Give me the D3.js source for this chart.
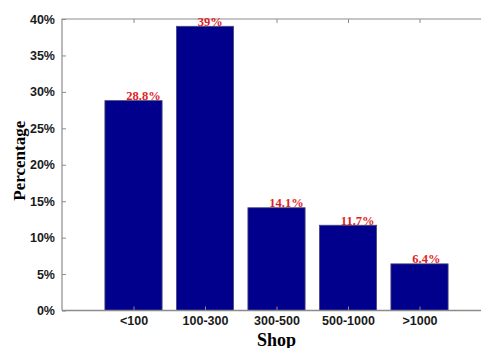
<!DOCTYPE html>
<html><head><meta charset="utf-8">
<script src="https://cdn.jsdelivr.net/npm/d3@7"></script>
<style>body{margin:0;background:#fff}svg{display:block}</style>
</head><body>
<svg id="c" width="481" height="348"></svg>
<script>
const categories = ["<100", "100-300", "300-500", "500-1000", ">1000"];
const values = [28.8, 39, 14.1, 11.7, 6.4];
const valueLabels = ["28.8%", "39%", "14.1%", "11.7%", "6.4%"];
const yTicks = [0, 5, 10, 15, 20, 25, 30, 35, 40];

const svg = d3.select("#c");
const L = 62, R = 491, T = 19, B = 310.5;
const x = d3.scaleLinear().domain([0, categories.length + 1]).range([L, R]);
const y = d3.scaleLinear().domain([0, 40]).range([B, T]);
const bw = (x(1) - x(0)) * 0.8;
const axisColor = "#8c8c8c";

// bars
svg.selectAll("rect.bar").data(values).join("rect")
  .attr("class", "bar")
  .attr("x", (d, i) => x(i + 1) - bw / 2)
  .attr("y", d => y(d))
  .attr("width", bw)
  .attr("height", d => y(0) - y(d))
  .attr("fill", "#00008c")
  .attr("stroke", "#4a4a78")
  .attr("stroke-width", 0.8);

// box
svg.append("path")
  .attr("d", `M${L},${B}V${T}H${R}`)
  .attr("fill", "none").attr("stroke", axisColor).attr("stroke-width", 1.2);
svg.append("line").attr("x1", L).attr("x2", R).attr("y1", B).attr("y2", B)
  .attr("stroke", axisColor).attr("stroke-width", 1.5);

// y axis
const yAxis = d3.axisLeft(y).tickValues(yTicks).tickFormat(d => d + "%").tickSizeInner(-4).tickSizeOuter(0).tickPadding(7);
const gy = svg.append("g").attr("transform", `translate(${L},0)`).call(yAxis);
gy.select(".domain").remove();
gy.selectAll(".tick line").attr("stroke", axisColor);
gy.selectAll(".tick text").attr("font-family", "Arial, 'Liberation Sans', sans-serif")
  .attr("font-size", 12.5).attr("font-weight", "bold").attr("fill", "#1a1a1a");

// x axis
const xAxis = d3.axisBottom(x).tickValues(d3.range(1, categories.length + 1))
  .tickFormat(d => categories[d - 1]).tickSizeInner(-4).tickSizeOuter(0).tickPadding(6);
const gx = svg.append("g").attr("transform", `translate(0,${B})`).call(xAxis);
gx.select(".domain").remove();
gx.selectAll(".tick line").attr("stroke", axisColor);
gx.selectAll(".tick text").attr("font-family", "Arial, 'Liberation Sans', sans-serif")
  .attr("font-size", 12.5).attr("font-weight", "bold").attr("fill", "#1a1a1a");

// top ticks
const xTop = d3.axisTop(x).tickValues(d3.range(1, categories.length + 1)).tickFormat("").tickSizeInner(-4).tickSizeOuter(0);
const gt = svg.append("g").attr("transform", `translate(0,${T})`).call(xTop);
gt.select(".domain").remove();
gt.selectAll(".tick line").attr("stroke", axisColor);

// value labels
svg.selectAll("text.val").data(values).join("text")
  .attr("class", "val")
  .attr("x", (d, i) => x(i + 1 - 0.1))
  .attr("y", d => y(d) - 0.5)
  .attr("font-family", "'Times New Roman', 'Liberation Serif', serif")
  .attr("font-weight", "bold").attr("font-size", 12.5)
  .attr("fill", "#e01e1e")
  .text((d, i) => valueLabels[i]);

// axis titles
svg.append("text").attr("x", x(3)).attr("y", 345.5)
  .attr("text-anchor", "middle")
  .attr("font-family", "'Times New Roman', 'Liberation Serif', serif")
  .attr("font-weight", "bold").attr("font-size", 18).text("Shop");
svg.append("text").attr("transform", `translate(25,${(T + B) / 2 - 4}) rotate(-90)`)
  .attr("text-anchor", "middle")
  .attr("font-family", "'Times New Roman', 'Liberation Serif', serif")
  .attr("font-weight", "bold").attr("font-size", 17).text("Percentage");
</script>
</body></html>
